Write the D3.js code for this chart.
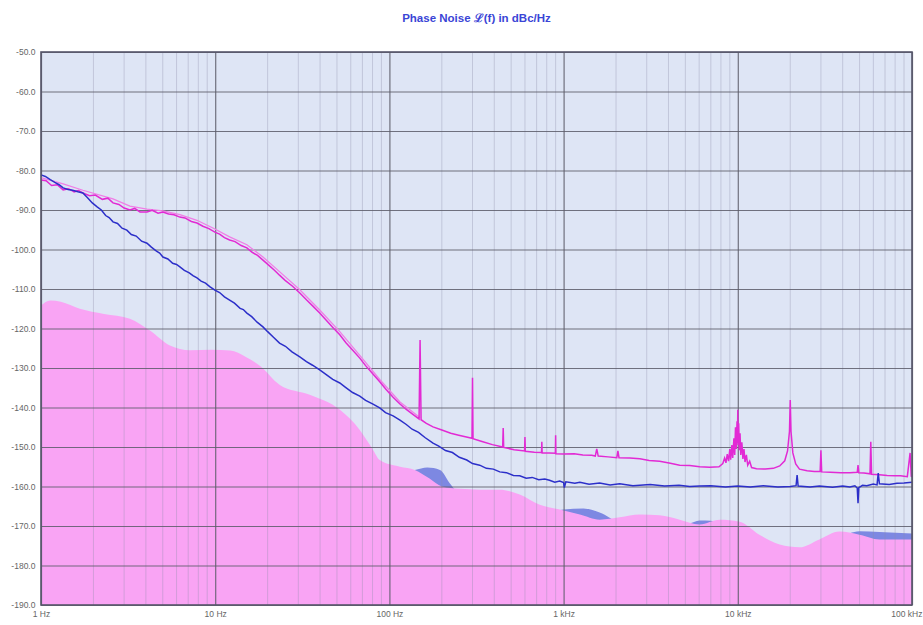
<!DOCTYPE html>
<html>
<head>
<meta charset="utf-8">
<script src="https://cdn.jsdelivr.net/npm/d3@7"></script>
<style>
  body { margin: 0; background: #fff; }
  text { font-family: "Liberation Sans Narrow", "Liberation Sans", Arial, sans-serif; }
</style>
</head>
<body>
<div class="canvas"></div>
<script>
// tick labels
const yTicks = [-50, -60, -70, -80, -90, -100, -110, -120, -130, -140, -150, -160, -170, -180, -190]
const xTicks = [1, 10, 100, 1000, 10000, 100000]
const xTickLabels = ['1 Hz', '10 Hz', '100 Hz', '1 kHz', '10 kHz', '100 kHz']

// [frequency Hz, dBc/Hz]
const floorPink = [
  [1, -114.2], [1.13, -112.9], [1.3, -113.2], [1.67, -115.0], [2.3, -116.3], [3.24, -117.5],
  [4.22, -120.5], [5.5, -124.3], [7.16, -125.5], [9.5, -125.4], [12.2, -125.6], [15, -127.2],
  [18.1, -129.5], [23.5, -134.3], [34.9, -136.8], [52, -140.6], [67.6, -145.7], [80, -150.5],
  [88, -153.3], [115, -155.0], [140, -155.8], [170, -158.0], [200, -160.0], [254, -160.6],
  [330, -160.8], [430, -160.8], [560, -162.0], [730, -164.6], [950, -165.8], [1240, -167.1],
  [1610, -168.4], [2100, -167.8], [2740, -167.1], [3560, -167.3], [4640, -168.4], [6040, -169.6],
  [7870, -168.4], [10240, -168.9], [13300, -172.2], [17400, -174.7], [22600, -175.4],
  [29400, -173.4], [38300, -171.4], [49900, -172.2], [65000, -173.4], [100000, -173.4]
]

const floorBlue = [
  [1, -116.5], [1.67, -117.2], [3.24, -119.5], [5.5, -126.2], [12.2, -127.3], [18.1, -131.2],
  [23.5, -136.2], [34.9, -138.6], [52, -142.5], [67.6, -147.5], [88, -155.0], [115, -156.5],
  [140, -155.8], [165, -155.2], [195, -155.8], [225, -159.5], [254, -162.0], [330, -162.6],
  [560, -164.0], [730, -166.2], [830, -166.3], [1000, -165.8], [1300, -165.6], [1610, -166.6],
  [2100, -169.0], [3560, -169.5], [5200, -169.4], [6040, -168.6], [7000, -168.7], [8500, -170.0],
  [13300, -173.5], [22600, -176.5], [38300, -172.8], [49900, -171.3], [65000, -171.5], [100000, -171.9]
]

const traceMagenta = [
  [1, -82.4], [1.07, -82.6], [1.15, -83.8], [1.24, -83.6], [1.34, -84.9], [1.44, -84.6], [1.55, -85.4],
  [1.64, -85.1], [1.74, -85.7], [1.9, -86.4], [2.05, -86.2], [2.25, -87.3], [2.42, -87.0], [2.59, -88.2],
  [2.8, -88.6], [3.0, -89.5], [3.24, -90.0], [3.45, -89.6], [3.7, -90.5], [4.06, -90.5], [4.35, -90.1],
  [4.7, -90.8], [5.01, -90.5], [5.4, -91.0], [5.8, -91.2], [6.27, -91.8], [6.7, -92.0], [7.3, -92.9],
  [7.86, -93.3], [8.5, -94.1], [9.2, -94.7], [9.96, -95.6], [10.6, -96.1], [11.3, -97.0], [12.1, -97.6],
  [13, -98.0], [14.1, -99.0], [15.2, -99.6], [16.3, -100.7], [17.5, -101.5], [18.8, -102.7],
  [20.2, -103.9], [21.8, -105.2], [23.4, -106.5], [25.2, -107.8], [27.8, -109.3], [30.6, -111.0],
  [33.5, -112.8], [36.5, -114.4], [39.8, -116.1], [43.4, -117.9], [47.5, -119.8], [51.9, -121.6],
  [56.3, -123.6], [61.6, -125.5], [67.6, -127.5], [73, -129.4], [80, -131.4], [88, -133.5],
  [95.5, -135.4], [105, -137.4], [115, -139.1], [125, -140.5], [137, -141.8], [148, -142.9],
  [150, -122.9], [152, -143.1], [163, -144.0], [178, -144.9], [200, -145.7], [225, -146.5],
  [250, -147.0], [298, -147.8], [300, -132.5], [302, -147.9], [340, -148.6], [390, -149.4],
  [447, -150.0], [450, -145.2], [453, -150.1], [520, -150.7], [597, -151.0], [600, -147.5],
  [603, -151.1], [680, -151.3], [747, -151.4], [750, -148.7], [753, -151.5], [830, -151.5],
  [897, -151.6], [900, -147.0], [903, -151.7], [1000, -151.8], [1150, -151.7], [1290, -152.0],
  [1450, -152.1], [1520, -152.3], [1550, -150.5], [1580, -152.3], [1800, -152.5], [2020, -152.7],
  [2050, -151.0], [2080, -152.7], [2400, -152.8], [2740, -153.0], [3100, -153.4], [3560, -153.6],
  [4100, -154.1], [4640, -154.6], [5300, -154.7], [6040, -155.0], [6900, -155.1], [7800, -155.0],
  [8200, -154.2], [8400, -152.8], [8550, -154.0], [8700, -151.8], [8850, -153.6], [9000, -150.5],
  [9100, -153.2], [9250, -149.5], [9350, -152.8], [9500, -147.8], [9600, -152.0], [9700, -145.0],
  [9800, -150.5], [9900, -143.5], [9950, -149.0], [10000, -140.6], [10050, -149.5], [10120, -144.0],
  [10200, -150.8], [10300, -146.5], [10400, -152.0], [10550, -148.8], [10700, -153.0], [10850, -150.5],
  [11000, -153.8], [11200, -152.0], [11400, -154.6], [11700, -153.6], [12000, -155.2], [12800, -155.5],
  [14400, -155.6], [16000, -155.4], [17400, -154.8], [18600, -153.5], [19300, -151.0], [19800, -146.0],
  [20000, -138.1], [20200, -146.0], [20700, -151.5], [21500, -154.3], [22600, -155.6], [25000, -156.0],
  [27500, -156.2], [29700, -156.2], [30000, -150.8], [30300, -156.3], [34000, -156.4], [39000, -156.5],
  [44000, -156.5], [48500, -156.4], [49000, -154.6], [49500, -156.5], [53000, -156.6], [57400, -156.8],
  [58000, -148.7], [58600, -156.9], [65000, -157.0], [72000, -157.2], [79800, -157.3], [86000, -157.3],
  [90000, -157.4], [94000, -157.5], [97500, -151.5], [99000, -157.4], [100000, -157.5]
]

const traceMagentaLight = [
  [1, -81.8], [1.34, -83.4], [1.74, -85.0], [2.59, -87.2], [3.24, -89.0], [4.06, -89.8], [5.01, -90.2],
  [6.27, -91.2], [7.86, -92.6], [9.96, -94.8], [12.1, -96.8], [15.2, -98.8], [18.8, -101.9],
  [23.4, -105.6], [30.6, -110.2], [39.8, -115.3], [51.9, -120.8], [67.6, -126.8], [88, -132.9],
  [115, -138.6], [150, -142.6]
]

const traceBlue = [
  [1, -81.1], [1.06, -81.5], [1.13, -82.3], [1.2, -83.0], [1.27, -83.6], [1.34, -84.4], [1.43, -84.8],
  [1.52, -85.0], [1.63, -85.4], [1.74, -85.7], [1.85, -86.9], [1.97, -88.2], [2.1, -89.2], [2.22, -90.0],
  [2.35, -91.4], [2.46, -91.9], [2.59, -93.0], [2.75, -93.4], [2.92, -94.6], [3.11, -95.1], [3.3, -96.2],
  [3.52, -96.6], [3.78, -97.9], [4.06, -98.4], [4.3, -99.4], [4.6, -100.4], [4.8, -100.9], [5.01, -101.9],
  [5.35, -102.4], [5.7, -103.5], [6.0, -103.8], [6.27, -104.4], [6.65, -105.3], [7.1, -105.9],
  [7.45, -106.6], [7.86, -107.2], [8.3, -108.0], [8.8, -108.5], [9.3, -109.4], [9.96, -110.3],
  [10.6, -110.9], [11.3, -112.0], [12.1, -112.8], [12.9, -113.6], [13.9, -114.9], [14.5, -115.2],
  [15.2, -116.1], [16.2, -117.0], [17.4, -118.4], [18.8, -119.6], [20, -120.8], [21.6, -122.2],
  [23.4, -123.7], [25.3, -124.5], [27.6, -125.9], [30.6, -127.2], [33.4, -128.4], [36.2, -129.3],
  [39.8, -130.5], [43.2, -131.6], [47.3, -132.9], [51.9, -133.8], [56, -134.9], [61.5, -136.2],
  [67.6, -137.1], [73, -138.2], [80, -139.1], [88, -140.1], [95, -141.3], [105, -142.1],
  [115, -143.2], [125, -144.3], [135, -145.5], [147, -146.3], [160, -147.6], [178, -149.0],
  [192, -149.8], [210, -150.9], [230, -151.4], [252, -152.6], [278, -153.3], [300, -154.2],
  [330, -154.6], [360, -155.4], [395, -155.6], [430, -156.3], [470, -156.5], [515, -157.2],
  [560, -157.3], [610, -157.9], [660, -157.7], [720, -158.3], [780, -158.1], [830, -158.4],
  [890, -158.9], [950, -158.6], [1000, -159.0], [1010, -160.3], [1030, -158.8], [1160, -159.2],
  [1240, -158.9], [1400, -159.4], [1610, -159.1], [1850, -159.6], [2100, -159.3], [2500, -159.8],
  [3140, -159.5], [3800, -159.9], [4600, -159.7], [5300, -160.0], [6040, -159.9], [7000, -159.8],
  [8500, -160.1], [10000, -159.9], [11800, -160.1], [14000, -159.8], [17000, -160.1], [20000, -160.0],
  [21600, -159.8], [21900, -157.1], [22200, -159.9], [26000, -160.1], [29400, -159.9], [35000, -160.2],
  [40000, -159.9], [44000, -160.1], [47000, -159.8], [48500, -160.4], [49000, -164.2], [49500, -160.3],
  [52000, -159.7], [55000, -159.8], [60000, -159.4], [63000, -159.6], [64000, -156.6], [65000, -159.3],
  [74000, -159.5], [82000, -159.2], [90000, -159.1], [100000, -158.9]
]

const dimensions = { width: 923, height: 625 }
const margin = { top: 52, right: 11, bottom: 20, left: 41 }
const inner = {
  width: dimensions.width - margin.left - margin.right,
  height: dimensions.height - margin.top - margin.bottom
}

const svg = d3.select('.canvas')
  .append('svg')
  .attr('width', dimensions.width)
  .attr('height', dimensions.height)

svg.append('text')
  .attr('x', margin.left + inner.width / 2)
  .attr('y', 22)
  .attr('text-anchor', 'middle')
  .attr('font-size', 11.5)
  .attr('font-weight', 'bold')
  .attr('fill', '#3a45d6')
  .text('Phase Noise ℒ(f) in dBc/Hz')

const graph = svg.append('g')
  .attr('transform', `translate(${margin.left}, ${margin.top})`)

const x = d3.scaleLog().domain([1, 100000]).range([0, inner.width])
const y = d3.scaleLinear().domain([-190, -50]).range([inner.height, 0])

graph.append('rect')
  .attr('width', inner.width)
  .attr('height', inner.height)
  .attr('fill', '#dee5f5')

const area = d3.area()
  .x(d => x(d[0]))
  .y0(inner.height)
  .y1(d => y(d[1]))
  .curve(d3.curveMonotoneX)

graph.append('path').attr('d', area(floorBlue)).attr('fill', '#7d88e2')
graph.append('path').attr('d', area(floorPink)).attr('fill', '#f9a4f4')

// minor vertical grid
const minor = []
for (let dec = 1; dec < 100000; dec *= 10) {
  for (let m = 2; m <= 9; m++) minor.push(dec * m)
}
graph.append('g')
  .selectAll('line')
  .data(minor)
  .enter()
  .append('line')
  .attr('x1', d => x(d)).attr('x2', d => x(d))
  .attr('y1', 0).attr('y2', inner.height)
  .attr('stroke', '#8c8ca8')
  .attr('stroke-opacity', 0.35)
  .attr('stroke-width', 1)

// major grid via axes
const xAxis = d3.axisBottom(x)
  .tickValues(xTicks)
  .tickSize(-inner.height)
  .tickFormat((d, i) => xTickLabels[i])

const yAxis = d3.axisLeft(y)
  .tickValues(yTicks)
  .tickSize(-inner.width)
  .tickFormat(d => d.toFixed(1))

const gx = graph.append('g')
  .attr('transform', `translate(0, ${inner.height})`)
  .call(xAxis)
const gy = graph.append('g').call(yAxis)

;[gx, gy].forEach(g => {
  g.select('.domain').remove()
  g.selectAll('.tick line').attr('stroke', '#5c5c68').attr('stroke-width', 1.2).attr('stroke-opacity', 0.85)
  g.selectAll('.tick text').attr('fill', '#666').attr('font-size', 8.5)
    .attr('font-family', '"Liberation Sans Narrow", "Liberation Sans", Arial, sans-serif')
})
gx.selectAll('.tick text').attr('dy', '1.1em')
gx.selectAll('.tick:last-of-type text').attr('text-anchor', 'end').attr('dx', '10')
gy.selectAll('.tick text').attr('dx', '-0.3em')

const line = d3.line()
  .x(d => x(d[0]))
  .y(d => y(d[1]))

graph.append('path').attr('d', line(traceMagentaLight))
  .attr('fill', 'none').attr('stroke', '#f07ee6').attr('stroke-width', 1.3)
graph.append('path').attr('d', line(traceMagenta))
  .attr('fill', 'none').attr('stroke', '#e22ad4').attr('stroke-width', 1.5)
graph.append('path').attr('d', line(traceBlue))
  .attr('fill', 'none').attr('stroke', '#2c2fc9').attr('stroke-width', 1.5)

graph.append('rect')
  .attr('width', inner.width)
  .attr('height', inner.height)
  .attr('fill', 'none')
  .attr('stroke', '#55556a')
  .attr('stroke-width', 1.6)
</script>
</body>
</html>
